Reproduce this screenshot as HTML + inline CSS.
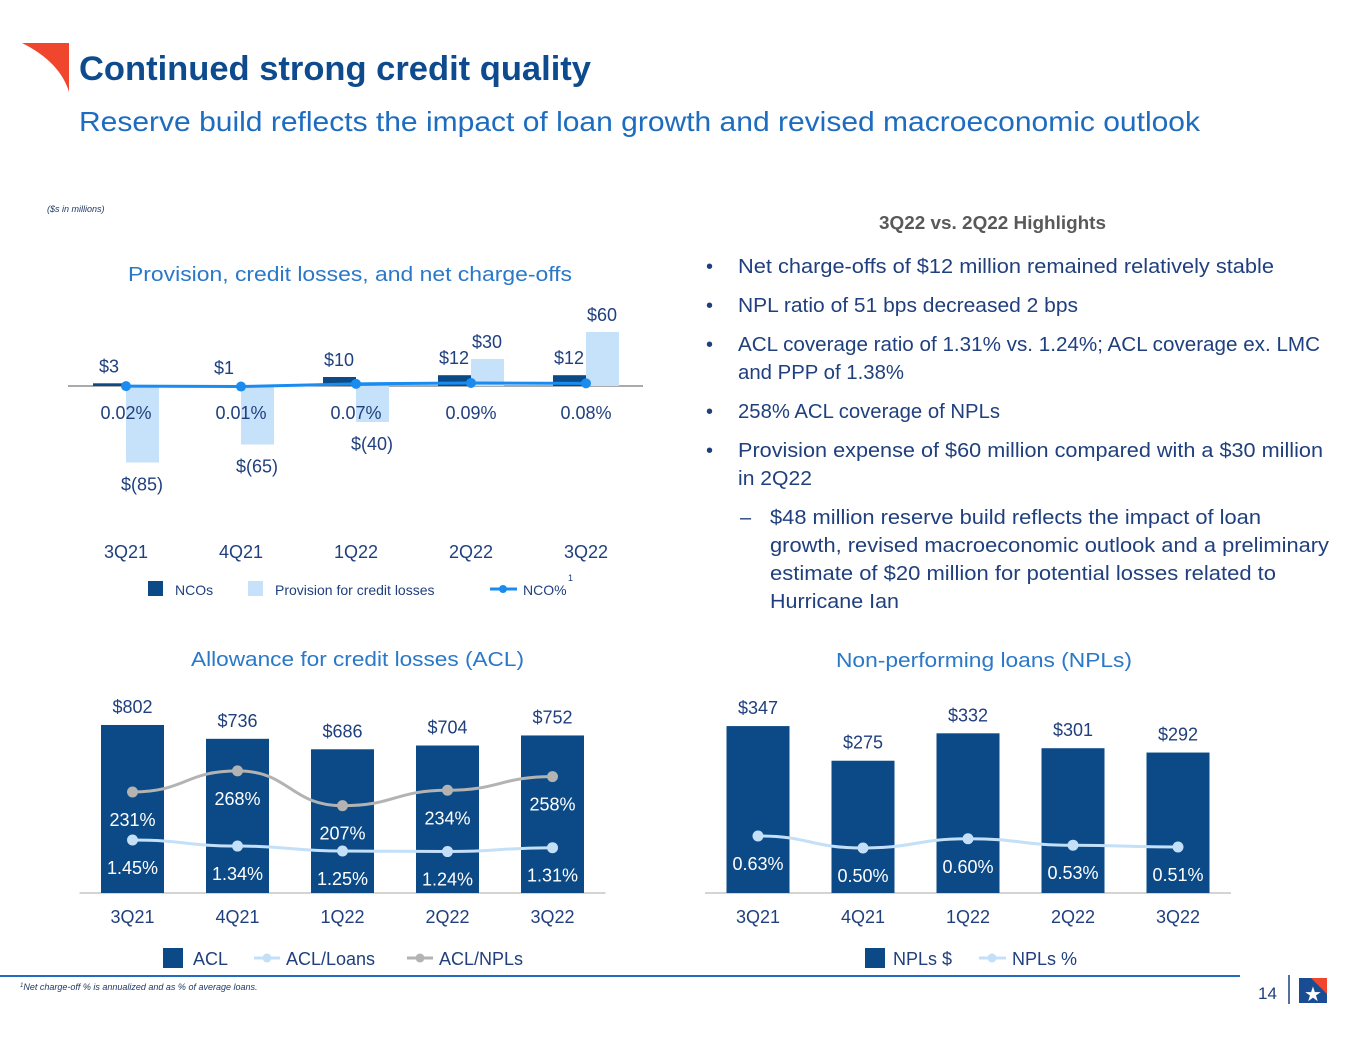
<!DOCTYPE html>
<html><head><meta charset="utf-8"><style>
body{margin:0;background:#fff;}
svg{display:block;font-family:"Liberation Sans",sans-serif;}
</style></head><body>
<svg id="s" width="1365" height="1040" viewBox="0 0 1365 1040">
<path d="M22,43 L69,43 L69,92 Q60,62 22,43 Z" fill="#f0462e"/>
<text x="79" y="80" font-size="34" font-weight="bold" fill="#0d4b8e" textLength="512" lengthAdjust="spacingAndGlyphs">Continued strong credit quality</text>
<text x="79" y="131" font-size="28" fill="#1d6cc0" textLength="1121" lengthAdjust="spacingAndGlyphs">Reserve build reflects the impact of loan growth and revised macroeconomic outlook</text>
<text x="47" y="212" font-size="9" font-style="italic" fill="#1f3864">($s in millions)</text>

<text x="128" y="281" font-size="20" fill="#2a78c8" textLength="444" lengthAdjust="spacingAndGlyphs">Provision, credit losses, and net charge-offs</text>
<text x="191" y="666" font-size="20" fill="#2a78c8" textLength="333" lengthAdjust="spacingAndGlyphs">Allowance for credit losses (ACL)</text>
<text x="836" y="667" font-size="20" fill="#2a78c8" textLength="296" lengthAdjust="spacingAndGlyphs">Non-performing loans (NPLs)</text>

<g id="top"></g>
<g id="acl"></g>
<g id="npl"></g>

<g font-size="20" fill="#1f3f7e">
<text x="879" y="229" font-size="18" font-weight="bold" fill="#595959" textLength="227" lengthAdjust="spacingAndGlyphs">3Q22 vs. 2Q22 Highlights</text>
<text x="706" y="273">•</text>
<text x="738" y="273" textLength="536" lengthAdjust="spacingAndGlyphs">Net charge-offs of $12 million remained relatively stable</text>
<text x="706" y="312">•</text>
<text x="738" y="312" textLength="340" lengthAdjust="spacingAndGlyphs">NPL ratio of 51 bps decreased 2 bps</text>
<text x="706" y="351">•</text>
<text x="738" y="351" textLength="582" lengthAdjust="spacingAndGlyphs">ACL coverage ratio of 1.31% vs. 1.24%; ACL coverage ex. LMC</text>
<text x="738" y="379" textLength="166" lengthAdjust="spacingAndGlyphs">and PPP of 1.38%</text>
<text x="706" y="418">•</text>
<text x="738" y="418" textLength="262" lengthAdjust="spacingAndGlyphs">258% ACL coverage of NPLs</text>
<text x="706" y="457">•</text>
<text x="738" y="457" textLength="585" lengthAdjust="spacingAndGlyphs">Provision expense of $60 million compared with a $30 million</text>
<text x="738" y="485" textLength="74" lengthAdjust="spacingAndGlyphs">in 2Q22</text>
<text x="740" y="524">–</text>
<text x="770" y="524" textLength="491" lengthAdjust="spacingAndGlyphs">$48 million reserve build reflects the impact of loan</text>
<text x="770" y="552" textLength="559" lengthAdjust="spacingAndGlyphs">growth, revised macroeconomic outlook and a preliminary</text>
<text x="770" y="580" textLength="506" lengthAdjust="spacingAndGlyphs">estimate of $20 million for potential losses related to</text>
<text x="770" y="608" textLength="129" lengthAdjust="spacingAndGlyphs">Hurricane Ian</text>
</g>

<line x1="0" y1="976" x2="1240" y2="976" stroke="#1f6cc0" stroke-width="2"/>
<text x="20" y="990" font-size="9" font-style="italic" fill="#1f3864"><tspan font-size="6" dy="-3">1</tspan><tspan dy="3">Net charge-off % is annualized and as % of average loans.</tspan></text>
<text x="1258" y="999" font-size="17" fill="#1f3f7e">14</text>
<line x1="1289" y1="975" x2="1289" y2="1004" stroke="#1f3f7e" stroke-width="1.5"/>
<g>
<rect x="1299" y="978" width="28" height="25" fill="#1a4c94"/>
<polygon points="1311,978 1327,978 1327,994" fill="#f0462e"/>
<text x="1313" y="1001" font-size="20" fill="#fff" text-anchor="middle">★</text>
</g>
</svg>
<script>
// Provision chart data
const topCats = ['3Q21','4Q21','1Q22','2Q22','3Q22'];
const ncoVals = [3,1,10,12,12];
const provVals = [-85,-65,-40,30,60];
const ncoPct = [0.02,0.01,0.07,0.09,0.08];
const ncoPctLabels = ['0.02%','0.01%','0.07%','0.09%','0.08%'];
// ACL chart data
const aclCats = ['3Q21','4Q21','1Q22','2Q22','3Q22'];
const aclVals = [802,736,686,704,752];
const aclLoans = [1.45,1.34,1.25,1.24,1.31];
const aclNpls = [231,268,207,234,258];
// NPL chart data
const nplCats = ['3Q21','4Q21','1Q22','2Q22','3Q22'];
const nplVals = [347,275,332,301,292];
const nplPct = [0.63,0.50,0.60,0.53,0.51];

const NS='http://www.w3.org/2000/svg';
function mk(p,tag,at,txt){const e=document.createElementNS(NS,tag);for(const k in at)e.setAttribute(k,at[k]);if(txt!==undefined)e.textContent=txt;p.appendChild(e);return e;}
const DARK='#0b4a86', LIGHT='#c6e2fa', NCOL='#1a8cf0', GRAY='#b3b3b3', TXT='#1f3f7e';

// ---- Provision chart
(function(){
 const g=document.getElementById('top');
 const x=i=>126+i*115, base=386, ys=v=>base-v*0.9, yp=v=>387-v*45;
 mk(g,'line',{x1:68,y1:base,x2:643,y2:base,stroke:'#555','stroke-width':1});
 topCats.forEach((c,i)=>{
  const n=ncoVals[i], p=provVals[i];
  let r=mk(g,'rect',{x:x(i)-33,y:ys(n),width:33,height:Math.max(base-ys(n),1),fill:DARK});
  
  
  r=mk(g,'rect',{x:x(i),y:Math.min(ys(p),base),width:33,height:Math.abs(ys(p)-base),fill:LIGHT});
  
  
  let t=mk(g,'text',{x:x(i)-17,y:ys(n)-11,'font-size':18,fill:TXT,'text-anchor':'middle'},'$'+n);
  
  
  const pl=p<0?'$('+(-p)+')':'$'+p;
  t=mk(g,'text',{x:x(i)+16,y:p<0?ys(p)+28:ys(p)-11,'font-size':18,fill:TXT,'text-anchor':'middle'},pl);
  
  
  t=mk(g,'text',{x:x(i),y:419,'font-size':18,fill:TXT,'text-anchor':'middle'},ncoPctLabels[i]);
  
  
  t=mk(g,'text',{x:x(i),y:558,'font-size':18,fill:TXT,'text-anchor':'middle'},c);
  
  
 });
 const pts=ncoPct.map((v,i)=>x(i)+','+yp(v)).join(' ');
 const l=mk(g,'polyline',{points:pts,fill:'none',stroke:NCOL,'stroke-width':3});
 
 
 ncoPct.forEach((v,i)=>{const c=mk(g,'circle',{cx:x(i),cy:yp(v),r:5,fill:NCOL});
  
  });
 const lg=mk(g,'g',{'font-size':14,fill:TXT});
 
 
 mk(lg,'rect',{x:148,y:581,width:15,height:15,fill:DARK});
 mk(lg,'text',{x:175,y:595},'NCOs');
 mk(lg,'rect',{x:248,y:581,width:15,height:15,fill:LIGHT});
 mk(lg,'text',{x:275,y:595},'Provision for credit losses');
 mk(lg,'line',{x1:490,y1:589,x2:517,y2:589,stroke:NCOL,'stroke-width':3});
 mk(lg,'circle',{cx:503,cy:589,r:4,fill:NCOL});
 mk(lg,'text',{x:523,y:595},'NCO%');
 mk(lg,'text',{x:568,y:581,'font-size':9},'1');
})();

function barChart(id,cats,vals,x0,scale,lines,legend){
 const g=document.getElementById(id);
 const base=893, x=i=>x0+i*105;
 mk(g,'line',{x1:x0-53,y1:base,x2:x0+473,y2:base,stroke:'#aaa','stroke-width':1});
 cats.forEach((c,i)=>{
  const h=vals[i]*scale;
  const r=mk(g,'rect',{x:x(i)-31.5,y:base-h,width:63,height:h,fill:DARK});
  
  
  let t=mk(g,'text',{x:x(i),y:base-h-12,'font-size':18,fill:TXT,'text-anchor':'middle'},'$'+vals[i]);
  
  
  t=mk(g,'text',{x:x(i),y:923,'font-size':18,fill:TXT,'text-anchor':'middle'},c);
  
  
 });
 lines.forEach(L=>{
  const pts=L.vals.map((v,i)=>[x(i),L.y(v)]);
  let d='M'+pts[0];
  for(let i=1;i<pts.length;i++){const a=pts[i-1],b=pts[i],m=(b[0]-a[0])/2;d+=' C'+(a[0]+m)+','+a[1]+' '+(b[0]-m)+','+b[1]+' '+b[0]+','+b[1];}
  const p=mk(g,'path',{d:d,fill:'none',stroke:L.color,'stroke-width':3});
  
  
  pts.forEach((pt,i)=>{
   const c=mk(g,'circle',{cx:pt[0],cy:pt[1],r:5.5,fill:L.color});
   
   
   const t=mk(g,'text',{x:pt[0],y:pt[1]+34,'font-size':18,fill:'#fff','text-anchor':'middle'},L.fmt(L.vals[i]));
   
   
  });
 });
 const lg=mk(g,'g',{'font-size':18,fill:TXT});
 
 
 legend(lg);
}
barChart('acl',aclCats,aclVals,132.5,0.2095,[
 {name:'acl-npls',vals:aclNpls,color:GRAY,y:v=>792-(v-231)*0.57,fmt:v=>v+'%'},
 {name:'acl-loans',vals:aclLoans,color:'#c3e0f8',y:v=>840-(v-1.45)*55,fmt:v=>v.toFixed(2)+'%'}
],lg=>{
 mk(lg,'rect',{x:163,y:948,width:20,height:20,fill:DARK});
 mk(lg,'text',{x:193,y:965},'ACL');
 mk(lg,'line',{x1:254,y1:958,x2:280,y2:958,stroke:'#c3e0f8','stroke-width':3});
 mk(lg,'circle',{cx:267,cy:958,r:4.5,fill:'#c3e0f8'});
 mk(lg,'text',{x:286,y:965},'ACL/Loans');
 mk(lg,'line',{x1:407,y1:958,x2:433,y2:958,stroke:GRAY,'stroke-width':3});
 mk(lg,'circle',{cx:420,cy:958,r:4.5,fill:GRAY});
 mk(lg,'text',{x:439,y:965},'ACL/NPLs');
});
barChart('npl',nplCats,nplVals,758,0.481,[
 {name:'npl-pct',vals:nplPct,color:'#c3e0f8',y:v=>836-(v-0.63)*92,fmt:v=>v.toFixed(2)+'%'}
],lg=>{
 mk(lg,'rect',{x:865,y:948,width:20,height:20,fill:DARK});
 mk(lg,'text',{x:893,y:965},'NPLs $');
 mk(lg,'line',{x1:979,y1:958,x2:1006,y2:958,stroke:'#c3e0f8','stroke-width':3});
 mk(lg,'circle',{cx:992,cy:958,r:4.5,fill:'#c3e0f8'});
 mk(lg,'text',{x:1012,y:965},'NPLs %');
});
</script>
</body></html>
